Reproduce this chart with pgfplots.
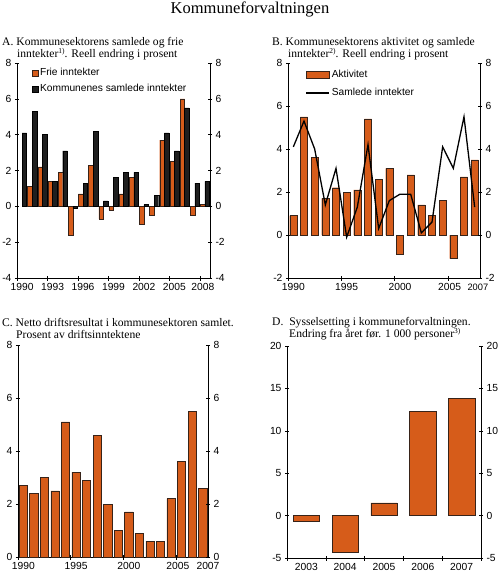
\documentclass[border=0pt]{standalone}
\usepackage{fontspec}
\setmainfont{Liberation Serif}
\setsansfont{Liberation Sans}
\usepackage{pgfplots}
\pgfplotsset{compat=1.18}
\definecolor{barorange}{RGB}{214,92,26}
\definecolor{edge}{RGB}{55,35,25}
\newcommand{\fnsup}[1]{\raisebox{3.2pt}{\fontsize{7.5}{8}\selectfont #1}}
\pgfplotsset{
  panel/.style={scale only axis, anchor=north west,
    axis x line*=bottom, axis y line*=left,
    tick align=center, major tick length=4pt, minor tick length=5pt,
    major x tick style={draw=none},
    tick style={black, line width=0.6pt},
    axis line style={black, line width=0.6pt},
    ticklabel style={font=\sffamily\fontsize{10.3}{11}\selectfont},
    /pgf/number format/assume math mode=true,
    legend cell align=left},
  rightax/.style={scale only axis, anchor=north west,
    axis y line*=right, axis x line=none,
    tick align=center, major tick length=4pt,
    tick style={black, line width=0.6pt},
    axis line style={black, line width=0.6pt},
    ticklabel style={font=\sffamily\fontsize{10.3}{11}\selectfont},
    /pgf/number format/assume math mode=true},
  boxleg/.style={legend image code/.code={\draw[##1] (0pt,-3pt) rectangle (6pt,3pt);}},
  wideleg/.style={legend image code/.code={\draw[##1] (0pt,-3.5pt) rectangle (23pt,3.5pt);}},
  lineleg/.style={legend image code/.code={\draw[##1] (0pt,0pt) -- (23pt,0pt);}},
}
\begin{document}
\begin{tikzpicture}
\path[use as bounding box] (0pt,0pt) rectangle (500pt,-581pt);
\node[anchor=base, font=\fontsize{16.5}{19}\selectfont] at (250pt,-13pt) {Kommuneforvaltningen};

% Panel titles
\begin{scope}[every node/.style={anchor=base west, inner sep=0pt, font=\fontsize{11.6}{13}\selectfont}]
\node at (2pt,-45pt) {A. Kommunesektorens samlede og frie};
\node at (17pt,-57pt) {inntekter\fnsup{1)}. Reell endring i prosent};
\node at (272pt,-45pt) {B. Kommunesektorens aktivitet og samlede};
\node at (288pt,-57pt) {inntekter\fnsup{2)}. Reell endring i prosent};
\node at (2pt,-326.5pt) {C. Netto driftsresultat i kommunesektoren samlet.};
\node at (16pt,-338pt) {Prosent av driftsinntektene};
\node at (272pt,-325pt) {D.\ \ Sysselsetting i kommuneforvaltningen.};
\node at (289pt,-337pt) {Endring fra året før. 1 000 personer\fnsup{3)}};
\end{scope}

% ---------- Panel A ----------
\begin{axis}[panel, at={(17pt,-63pt)}, width=193pt, height=215pt,
  xmin=-0.5, xmax=18.5, ymin=-4, ymax=8, ytick={-4,-2,...,8},
  xtick={0,3,6,9,12,15,17.8}, xticklabels={1990,1993,1996,1999,2002,2005,2008},
  minor xtick={-0.5,2.5,...,17.5},
  legend style={at={(rel axis cs:0.075,0.985)}, anchor=north west, draw=none, fill=none,
    inner sep=0pt, row sep=3pt, font=\sffamily\fontsize{10.2}{11}\selectfont}]
\addplot[ybar, bar width=0.45, bar shift=-0.225, fill=barorange, draw=edge, line width=0.4pt, boxleg] coordinates {
 (1,1.1) (2,2.2) (3,1.4) (4,1.9) (5,-1.6) (6,0.7) (7,2.3) (8,-0.7) (9,-0.2)
 (10,0.7) (11,1.6) (12,-1.0) (13,-0.5) (14,3.7) (15,2.5) (16,6.0) (17,-0.5) (18,0.1)};
\addlegendentry{Frie inntekter}
\addplot[ybar, bar width=0.45, bar shift=0.225, fill=black!88, draw=black, line width=0.4pt, boxleg] coordinates {
 (0,4.1) (1,5.3) (2,4.0) (3,1.4) (4,3.1) (5,-0.1) (6,1.3) (7,4.2) (8,0.3) (9,1.6)
 (10,1.9) (11,1.9) (12,0.1) (13,0.6) (14,4.1) (15,3.1) (16,5.5) (17,1.3) (18,1.4)};
\addlegendentry{Kommunenes samlede inntekter}
\end{axis}
\begin{axis}[rightax, at={(17pt,-63pt)}, width=193pt, height=215pt,
  xmin=-0.5, xmax=18.5, ymin=-4, ymax=8, ytick={-4,-2,...,8}]
\end{axis}

% ---------- Panel B ----------
\begin{axis}[panel, at={(288pt,-63pt)}, width=192pt, height=215pt,
  xmin=-0.5, xmax=17.5, ymin=-2, ymax=8, ytick={-2,0,...,8},
  xtick={0,5,10,14.65,17.3}, xticklabels={1990,1995,2000,2005,{\fontsize{9.3}{10}\selectfont 2007}},
  minor xtick={-0.5,4.5,9.5,14.5},
  legend style={at={(rel axis cs:0.09,0.975)}, anchor=north west, draw=none, fill=none,
    inner sep=0pt, row sep=5pt, font=\sffamily\fontsize{10.2}{11}\selectfont}]
\addplot[ybar, bar width=0.68, bar shift=0, fill=barorange, draw=edge, line width=0.4pt, wideleg] coordinates {
 (0,0.9) (1,5.5) (2,3.6) (3,1.7) (4,2.2) (5,2.0) (6,2.1) (7,5.4) (8,2.6) (9,3.1)
 (10,-0.9) (11,2.8) (12,1.4) (13,0.9) (14,1.6) (15,-1.1) (16,2.7) (17,3.5)};
\addlegendentry{Aktivitet}
\addplot[black, line width=1.3pt, sharp plot, mark=none, lineleg] coordinates {
 (0,4.1) (1,5.3) (2,4.0) (3,1.4) (4,3.1) (5,-0.1) (6,1.3) (7,4.2) (8,0.3) (9,1.6)
 (10,1.9) (11,1.9) (12,0.1) (13,0.6) (14,4.1) (15,3.1) (16,5.5) (17,1.3)};
\addlegendentry{Samlede inntekter}
\end{axis}
\begin{axis}[rightax, at={(288pt,-63pt)}, width=192pt, height=215pt,
  xmin=-0.5, xmax=17.5, ymin=-2, ymax=8, ytick={-2,0,...,8}]
\end{axis}

% ---------- Panel C ----------
\begin{axis}[panel, at={(18pt,-345pt)}, width=190pt, height=212pt,
  xmin=-0.5, xmax=17.5, ymin=0, ymax=8, ytick={0,2,...,8},
  xtick={0,5,10,14.65,17.5}, xticklabels={1990,1995,2000,2005,{\raisebox{-2.5pt}{2007}}},
  minor xtick={-0.5,4.5,9.5,14.5}]
\addplot[ybar, bar width=0.78, bar shift=0, fill=barorange, draw=edge, line width=0.5pt] coordinates {
 (0,2.7) (1,2.4) (2,3.0) (3,2.5) (4,5.1) (5,3.2) (6,2.9) (7,4.6) (8,2.0) (9,1.0)
 (10,1.7) (11,0.9) (12,0.6) (13,0.6) (14,2.2) (15,3.6) (16,5.5) (17,2.6)};
\end{axis}
\begin{axis}[rightax, at={(18pt,-345pt)}, width=190pt, height=212pt,
  xmin=-0.5, xmax=17.5, ymin=0, ymax=8, ytick={0,2,...,8}]
\end{axis}

% ---------- Panel D ----------
\begin{axis}[panel, at={(287pt,-346pt)}, width=194pt, height=212pt,
  xmin=-0.5, xmax=4.5, ymin=-5, ymax=20, ytick={-5,0,...,20},
  xtick={0,1,2,3,4}, xticklabels={2003,2004,2005,2006,2007},
  minor xtick={-0.5,0.5,...,4.5}]
\addplot[ybar, bar width=0.68, bar shift=0, fill=barorange, draw=edge, line width=0.5pt] coordinates {
 (0,-0.7) (1,-4.3) (2,1.5) (3,12.3) (4,13.8)};
\end{axis}
\begin{axis}[rightax, at={(287pt,-346pt)}, width=194pt, height=212pt,
  xmin=-0.5, xmax=4.5, ymin=-5, ymax=20, ytick={-5,0,...,20}]
\end{axis}
\end{tikzpicture}
\end{document}
